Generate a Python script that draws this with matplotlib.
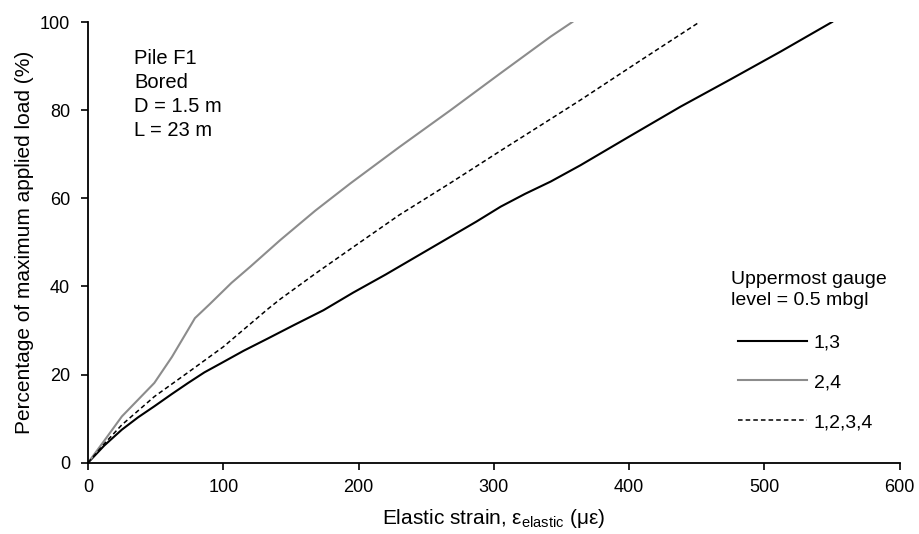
import matplotlib
matplotlib.use("Agg")
import matplotlib.pyplot as plt

plt.rcParams['font.family'] = ['Liberation Sans', 'DejaVu Sans']
plt.rcParams['mathtext.default'] = 'regular'

# Series 1,3 (black solid)
strain_13 = [0, 12, 25, 37, 49, 62, 74, 86, 98.5, 115, 133, 152, 174, 196, 220, 244, 268, 287, 305, 323,
             342, 364, 400, 438, 475, 512, 550]
load_13 = [0, 3.9, 7.5, 10.3, 12.8, 15.6, 18.1, 20.5, 22.6, 25.4, 28.2, 31.2, 34.6, 38.6, 42.7, 47.0,
           51.3, 54.7, 58.1, 61.0, 63.8, 67.5, 74.0, 80.8, 87.0, 93.3, 100]

# Series 2,4 (grey solid)
strain_24 = [0, 12, 25, 37, 49, 62, 74, 79, 90, 106, 120, 142, 168, 194, 230, 268, 305, 342, 358]
load_24 = [0, 5.0, 10.5, 14.3, 18.1, 24.0, 30.2, 32.8, 36.0, 40.8, 44.5, 50.5, 57.2, 63.4, 71.6,
           80.0, 88.4, 96.7, 100]

# Series 1,2,3,4 (black dashed)
strain_1234 = [0, 12, 25, 49, 74, 100, 133, 142, 168, 194, 230, 268, 305, 342, 364, 408, 452]
load_1234 = [0, 4.3, 8.6, 15.0, 20.5, 26.3, 34.9, 37.1, 42.9, 48.5, 56.2, 63.5, 70.8, 78.0, 82.3,
             91.2, 100]

labels = ["1,3", "2,4", "1,2,3,4"]
x_ticks = [0, 100, 200, 300, 400, 500, 600]
y_ticks = [0, 20, 40, 60, 80, 100]

fig = plt.figure(figsize=(9.2, 5.34), dpi=100)
ax = fig.add_axes([0.0957, 0.1335, 0.8823, 0.8253])

ax.plot(strain_13, load_13, color='black', lw=1.5, label=labels[0])
ax.plot(strain_24, load_24, color='#8c8c8c', lw=1.5, label=labels[1])
ax.plot(strain_1234, load_1234, color='black', lw=1.1, linestyle=(0, (3, 2)), label=labels[2])

ax.set_xlim(0, 600)
ax.set_ylim(0, 100)
ax.set_xticks(x_ticks)
ax.set_yticks(y_ticks)
ax.tick_params(direction='out', length=5, width=1.2, labelsize=13)
ax.tick_params(axis='x', pad=7)
ax.tick_params(axis='y', pad=8)
for s in ['top', 'right']:
    ax.spines[s].set_visible(False)
for s in ['left', 'bottom']:
    ax.spines[s].set_linewidth(1.3)

ax.set_xlabel("Elastic strain, $ε_{elastic}$ (με)", fontsize=15, labelpad=8)
ax.set_ylabel("Percentage of maximum applied load (%)", fontsize=15, labelpad=4)

ax.text(0.057, 0.938, "Pile F1\nBored\nD = 1.5 m\nL = 23 m", transform=ax.transAxes,
        fontsize=14.5, va='top', ha='left', linespacing=1.33)

ax.text(0.7919, 0.435, "Uppermost gauge\nlevel = 0.5 mbgl", transform=ax.transAxes,
        fontsize=14, va='top', ha='left', linespacing=1.3)

leg = ax.legend(frameon=False, fontsize=14, handlelength=3.55, handletextpad=0.36,
                labelspacing=1.15, loc='upper left', bbox_to_anchor=(0.8005, 0.2927),
                borderaxespad=0, borderpad=0)

fig.savefig("out.png", dpi=100)
